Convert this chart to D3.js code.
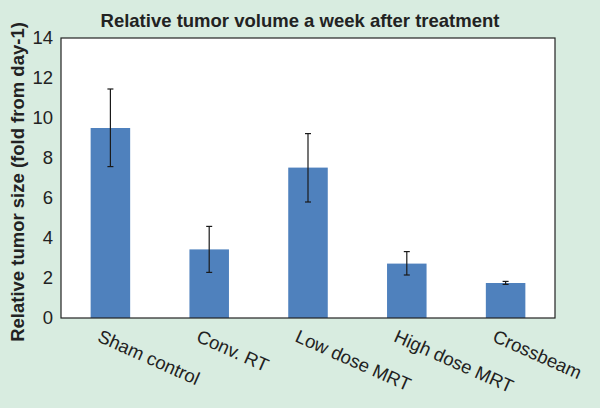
<!DOCTYPE html>
<html><head><meta charset="utf-8">
<script src="https://cdn.jsdelivr.net/npm/d3@7"></script>
<style>
html,body{margin:0;padding:0;background:#d8ece0;}
svg{display:block;font-family:"Liberation Sans",Arial,sans-serif;}
</style></head>
<body>
<svg id="chart" width="600" height="408"></svg>
<script>
const categories = ["Sham control", "Conv. RT", "Low dose MRT", "High dose MRT", "Crossbeam"];
const values = [9.5, 3.43, 7.52, 2.72, 1.75];
const errLow = [7.57, 2.28, 5.8, 2.15, 1.68];
const errHigh = [11.45, 4.58, 9.22, 3.32, 1.83];
const yTicks = [0, 2, 4, 6, 8, 10, 12, 14];

const svg = d3.select("#chart");
svg.append("rect").attr("width", 600).attr("height", 408).attr("fill", "#d8ece0");
const m = {left: 61, top: 38, right: 555, bottom: 318};

const x = d3.scaleBand().domain(categories).range([m.left, m.right]).paddingInner(0.6).paddingOuter(0.3);
const y = d3.scaleLinear().domain([0, 14]).range([m.bottom, m.top]);

svg.append("rect").attr("x", m.left).attr("y", m.top)
  .attr("width", m.right - m.left).attr("height", m.bottom - m.top)
  .attr("fill", "#ffffff");

svg.selectAll("rect.bar").data(categories).enter().append("rect")
  .attr("class", "bar")
  .attr("x", d => x(d))
  .attr("width", x.bandwidth())
  .attr("y", (d, i) => y(values[i]))
  .attr("height", (d, i) => y(0) - y(values[i]))
  .attr("fill", "#4f81bd");

const eg = svg.append("g").attr("stroke", "#1a1a1a").attr("stroke-width", 1.2);
categories.forEach((c, i) => {
  const cx = x(c) + x.bandwidth() / 2;
  eg.append("line").attr("x1", cx).attr("x2", cx).attr("y1", y(errLow[i])).attr("y2", y(errHigh[i]));
  eg.append("line").attr("x1", cx - 3).attr("x2", cx + 3).attr("y1", y(errLow[i])).attr("y2", y(errLow[i]));
  eg.append("line").attr("x1", cx - 3).attr("x2", cx + 3).attr("y1", y(errHigh[i])).attr("y2", y(errHigh[i]));
});

svg.append("rect").attr("x", m.left).attr("y", m.top)
  .attr("width", m.right - m.left).attr("height", m.bottom - m.top)
  .attr("fill", "none").attr("stroke", "#222").attr("stroke-width", 1.2);

const ya = svg.append("g").attr("transform", `translate(${m.left},0)`)
  .call(d3.axisLeft(y).tickValues(yTicks).tickSize(0).tickPadding(8));
ya.select(".domain").remove();
ya.selectAll("text").attr("font-size", 18.5).attr("fill", "#222")
  .attr("font-family", "Liberation Sans, Arial, sans-serif");

const xa = svg.append("g").attr("transform", `translate(0,${m.bottom})`)
  .call(d3.axisBottom(x).tickSize(0).tickPadding(0));
xa.select(".domain").remove();
xa.selectAll("text")
  .attr("font-size", 18.5).attr("fill", "#222")
  .attr("font-family", "Liberation Sans, Arial, sans-serif")
  .attr("text-anchor", "start")
  .attr("dy", 0).attr("y", 0)
  .attr("transform", "translate(-14,23) rotate(24)");

svg.append("text").attr("x", 300).attr("y", 27).attr("text-anchor", "middle")
  .attr("font-size", 18.5).attr("font-weight", "bold").attr("fill", "#222")
  .text("Relative tumor volume a week after treatment");

svg.append("text").attr("transform", "translate(24,182) rotate(-90)")
  .attr("text-anchor", "middle").attr("font-size", 18.5).attr("font-weight", "bold").attr("fill", "#222")
  .text("Relative tumor size (fold from day-1)");
</script>
</body></html>
